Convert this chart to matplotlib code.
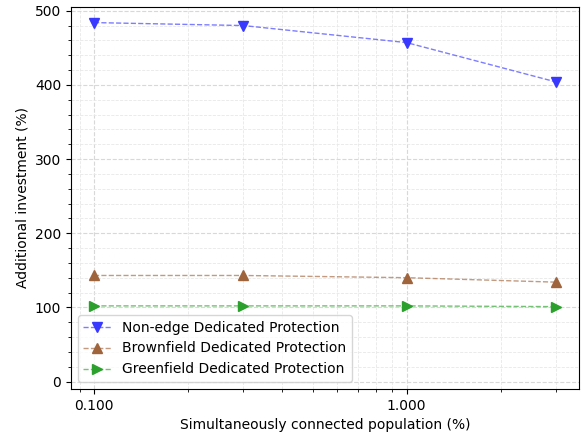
import matplotlib
matplotlib.use('Agg')
import matplotlib.pyplot as plt
from matplotlib.ticker import FormatStrFormatter, MultipleLocator

# 同時接続人口 (%)
population = [0.1, 0.3, 1.0, 3.0]

non_edge = [484, 480, 457, 404]
brownfield = [143, 143, 140, 134]
greenfield = [102, 102, 102, 101]

fig = plt.figure(figsize=(5.86, 4.38), dpi=100)
ax = fig.add_subplot(1, 1, 1)
fig.subplots_adjust(left=0.121, right=0.988, top=0.984, bottom=0.112)

series = [
    (non_edge, 'v', '#3838ff', 'Non-edge Dedicated Protection'),
    (brownfield, '^', '#a0643c', 'Brownfield Dedicated Protection'),
    (greenfield, '>', '#2ca02c', 'Greenfield Dedicated Protection'),
]
for values, marker, color, label in series:
    ax.plot(population, values, linestyle='--', linewidth=1.0,
            color=matplotlib.colors.to_rgba(color, 0.65),
            marker=marker, markersize=6.5,
            markerfacecolor=color, markeredgecolor=color, label=label)

ax.set_xscale('log')
ax.xaxis.set_major_formatter(FormatStrFormatter('%.3f'))
ax.yaxis.set_minor_locator(MultipleLocator(20))
ax.set_ylim(-10, 505)

ax.grid(which='major', linestyle='--', color='#d8d8d8', linewidth=0.8)
ax.grid(which='minor', linestyle='--', color='#e8e8e8', linewidth=0.6)

ax.set_xlabel('Simultaneously connected population (%)')
ax.set_ylabel('Additional investment (%)')
ax.legend(loc='lower left', fontsize=10)

plt.savefig('out.png')
